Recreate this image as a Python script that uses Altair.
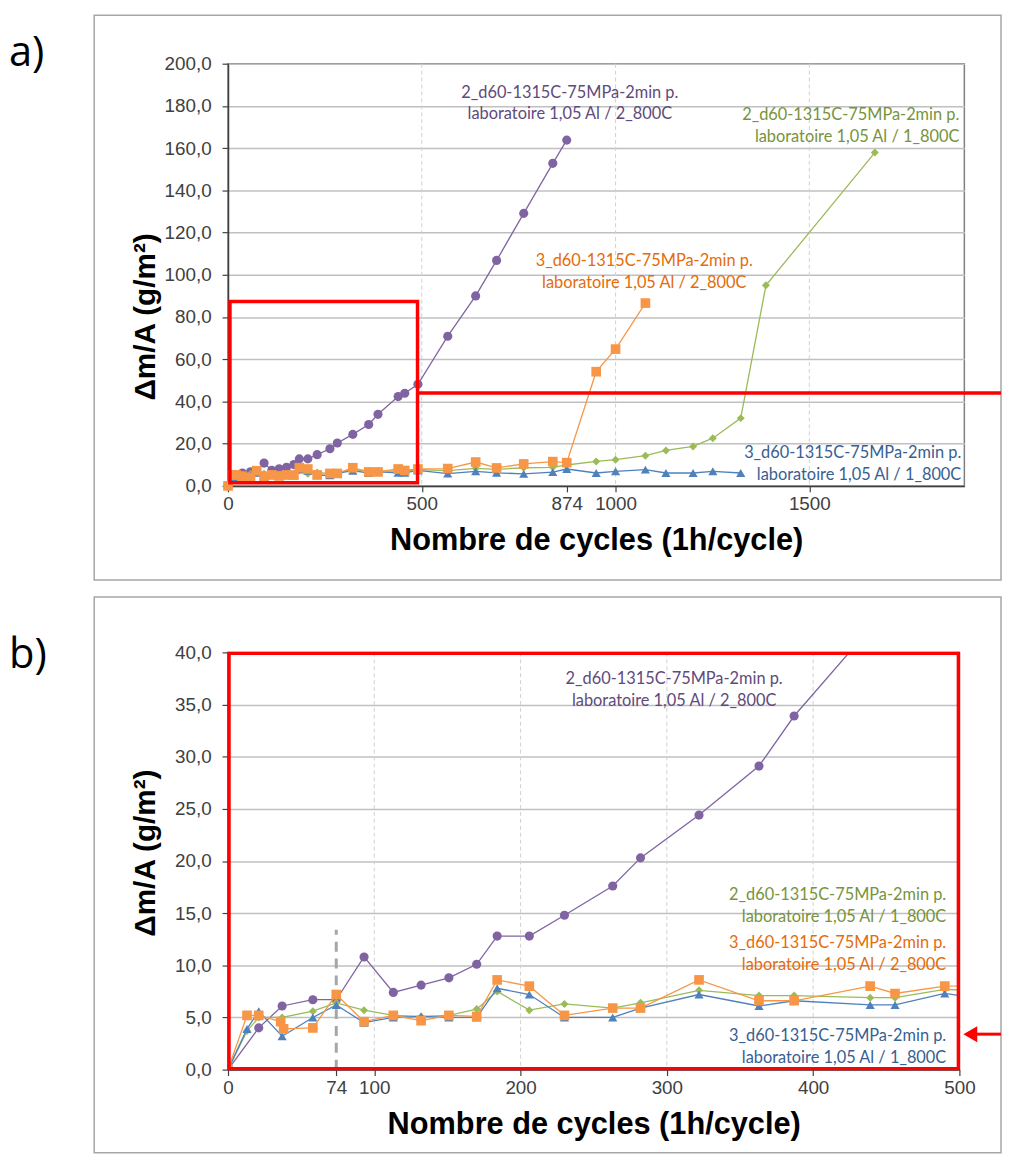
import altair as alt
import pandas as pd

# ---------------- data (cycles, delta m / A in g/m2) ----------------
purple_x = [0, 21, 37, 58, 74, 93, 113, 132, 151, 170, 184, 206, 230, 263, 282, 322, 363, 387,
            439, 456, 490, 567, 639, 693, 763, 838, 874]
purple_y = [0.0, 4.0, 6.1, 6.7, 6.7, 10.8, 7.4, 8.1, 8.8, 10.1, 12.8, 12.8, 14.8, 17.6, 20.3, 24.4,
            29.1, 33.9, 42.3, 43.9, 48.1, 70.9, 90.0, 106.8, 129.1, 152.8, 163.8]

orange_x = [0, 13, 21, 36, 38, 58, 74, 93, 113, 132, 151, 170, 184, 206, 230, 263, 282, 322, 363,
            387, 439, 456, 490, 567, 639, 693, 763, 838, 874, 950, 1000, 1077]
orange_y = [0.0, 5.2, 5.2, 4.6, 3.9, 4.0, 7.2, 4.6, 5.2, 4.7, 5.2, 5.1, 8.6, 8.0, 5.2, 5.9, 5.9, 8.6,
            6.6, 6.6, 8.0, 7.3, 8.0, 8.2, 11.3, 8.5, 10.4, 11.5, 11.0, 54.1, 64.8, 86.6]

green_x = [0, 13, 21, 37, 58, 74, 93, 113, 132, 151, 170, 184, 206, 230, 263, 282, 322, 363, 387,
           439, 456, 490, 567, 639, 693, 763, 838, 874, 950, 1000, 1077, 1130, 1200, 1251, 1323,
           1388, 1669]
green_y = [0.0, 3.7, 5.0, 5.0, 5.6, 6.4, 5.7, 5.2, 5.1, 5.2, 5.8, 7.5, 5.7, 6.3, 5.9, 6.4, 7.6, 7.1,
           7.1, 6.9, 6.9, 7.7, 7.2, 8.3, 7.8, 8.6, 8.8, 9.9, 11.6, 12.4, 14.3, 16.8, 18.7, 22.6,
           32.1, 95.0, 157.9]

blue_x = [0, 13, 21, 37, 58, 74, 93, 113, 132, 151, 170, 184, 206, 230, 263, 282, 322, 363, 387,
          439, 456, 490, 567, 639, 693, 763, 838, 874, 950, 1000, 1077, 1130, 1200, 1251, 1323]
blue_y = [0.0, 3.9, 5.6, 3.2, 5.0, 6.2, 4.5, 5.0, 5.1, 5.0, 5.0, 7.8, 7.2, 5.0, 5.0, 5.9, 7.2, 6.1,
          6.6, 6.2, 6.2, 7.3, 5.8, 6.9, 6.2, 5.7, 6.5, 8.0, 6.1, 6.9, 7.7, 6.1, 6.1, 6.9, 6.1]

series_names = ["purple", "green", "blue", "orange"]          # drawing order
series_data = {"purple": (purple_x, purple_y), "green": (green_x, green_y),
               "blue": (blue_x, blue_y), "orange": (orange_x, orange_y)}
line_colors = {"purple": "#8064A2", "green": "#9BBB59", "blue": "#4F81BD", "orange": "#F79646"}
text_colors = {"purple": "#604A7B", "green": "#77933C", "blue": "#376092", "orange": "#E46C0A"}
shapes = {"purple": "circle", "green": "diamond", "blue": "triangle-up", "orange": "square"}
sizes = {"purple": 85, "green": 65, "blue": 85, "orange": 95}

label_line1 = {"purple": "2_d60-1315C-75MPa-2min p.", "green": "2_d60-1315C-75MPa-2min p.",
               "orange": "3_d60-1315C-75MPa-2min p.", "blue": "3_d60-1315C-75MPa-2min p."}
label_line2 = {"purple": "laboratoire 1,05 Al / 2_800C", "green": "laboratoire 1,05 Al / 1_800C",
               "orange": "laboratoire 1,05 Al / 2_800C", "blue": "laboratoire 1,05 Al / 1_800C"}

# annotation anchor positions (data units, centre of first line) : x, y, align
ann_a = {"purple": (882, 186.3, "center"), "green": (1887, 175.5, "right"),
         "orange": (1074, 106.6, "center"), "blue": (1892, 15.6, "right")}
ann_b = {"purple": (305, 37.4, "center"), "green": (491, 16.7, "right"),
         "orange": (491, 12.1, "right"), "blue": (491, 3.2, "right")}

# panel a axes
a_xmax, a_ymax = 1900, 200
a_xticks = [0, 500, 874, 1000, 1500]
a_xgrid = [500, 1000, 1500]
a_yticks = list(range(0, 201, 20))
# panel b axes
b_xmax, b_ymax = 500, 40
b_xticks = [0, 74, 100, 200, 300, 400, 500]
b_xgrid = [100, 200, 300, 400]
b_yticks = list(range(0, 41, 5))

# zoomed region of panel a and marker of panel b
zoom_box = [{"x0": 5, "x1": 489, "y0": 1.5, "y1": 87.3}]
zoom_level = [{"x0": 489, "y": 44.0}]
start_cycle = [{"x": 74, "y0": 0.0, "y1": 13.4}]
arrow_level = [{"y": 3.4}]

rows = []
for s in series_names:
    xs, ys = series_data[s]
    for i, (x, y) in enumerate(zip(xs, ys)):
        rows.append({"series": s, "x": x, "y": y, "i": i})
df = pd.DataFrame(rows)

FONT = "Liberation Sans"
TFONT = "Lato"
YLABEL = "replace(format(datum.value, '.1f'), '.', ',')"
ONE = alt.Data(values=[{}])


def make_panel(letter, letter_y, xmax, ymax, xticks, xgrid, yticks, W, H, ann, clip, ytitle_y,
               box_top, box_bottom, fs_ann, lh_ann):
    xs = alt.Scale(domain=[0, xmax], nice=False, zero=True)
    ys = alt.Scale(domain=[0, ymax], nice=False, zero=True)
    xaxis = alt.Axis(values=xticks, format="d", grid=False, labelFont=FONT, labelFontSize=19,
                     labelColor="#404040", tickSize=6, tickColor="#404040", tickWidth=1.2,
                     domainColor="#404040", domainWidth=1.5, labelPadding=3,
                     labelOverlap=False, labelFlush=False,
                     title="Nombre de cycles (1h/cycle)", titleFont=FONT, titleFontSize=31,
                     titleFontWeight="bold", titleColor="#000000", titleBaseline="top",
                     titleY=40)
    yaxis = alt.Axis(values=yticks, labelExpr=YLABEL, grid=True, gridColor="#C0C0C0",
                     gridWidth=1.5, labelFont=FONT, labelFontSize=19, labelColor="#404040",
                     tickSize=6, tickColor="#404040", tickWidth=1.2, domainColor="#404040",
                     domainWidth=1.5, labelPadding=11,
                     title="Δm/A (g/m²)", titleFont=FONT, titleFontSize=30,
                     titleFontWeight="bold", titleColor="#000000", titleX=-68, titleY=ytitle_y,
                     titleAlign="center", titleBaseline="bottom", titleAngle=270)

    layers = []
    # outer frame of the panel
    layers.append(alt.Chart(ONE).mark_rect(fillOpacity=0, stroke="#A6A6A6", strokeWidth=1.5)
                  .encode(x=alt.value(-135), x2=alt.value(780), y=alt.value(box_top),
                          y2=alt.value(box_bottom)))
    # vertical dashed grid
    layers.append(alt.Chart(pd.DataFrame({"g": xgrid})).mark_rule(
        color="#D0D0D0", strokeWidth=1, strokeDash=[4, 3])
        .encode(x=alt.X("g:Q", scale=xs, axis=xaxis)))
    # series
    for s in series_names:
        sub = df[df.series == s]
        base = alt.Chart(sub).encode(
            x=alt.X("x:Q", scale=xs, axis=xaxis),
            y=alt.Y("y:Q", scale=ys, axis=yaxis),
            order="i:Q")
        layers.append(base.mark_line(color=line_colors[s], strokeWidth=1.3, clip=clip))
        layers.append(base.mark_point(shape=shapes[s], size=sizes[s], filled=True, opacity=1,
                                      color=line_colors[s], clip=clip))
    # series annotations
    for s in series_names:
        ax, ay, al = ann[s]
        d = pd.DataFrame([{"x": ax, "y": ay, "t": label_line1[s] + "\n" + label_line2[s]}])
        layers.append(alt.Chart(d).mark_text(font=TFONT, fontSize=fs_ann, lineHeight=lh_ann,
                                             lineBreak="\n", align=al, baseline="middle",
                                             color=text_colors[s])
                      .encode(x=alt.X("x:Q", scale=xs, axis=xaxis),
                              y=alt.Y("y:Q", scale=ys, axis=yaxis), text="t:N"))
    # panel letter
    layers.append(alt.Chart(ONE).mark_text(text=letter, font="Open Sans", fontSize=42,
                                           align="left", baseline="alphabetic", color="#000000")
                  .encode(x=alt.value(-221), y=alt.value(letter_y)))
    return layers, xs, ys, xaxis, yaxis


# ---------- panel a ----------
WA, HA = 743, 426
la, xsa, ysa, xaa, yaa = make_panel("a)", 2, a_xmax, a_ymax, a_xticks, a_xgrid, a_yticks, WA, HA,
                                    ann_a, False, 255, -49, 521, 16.5, 22)
la.append(alt.Chart(pd.DataFrame(zoom_box)).mark_rect(fillOpacity=0, stroke="#FF0000",
                                                      strokeWidth=3.5)
          .encode(x=alt.X("x0:Q", scale=xsa, axis=xaa), x2="x1:Q",
                  y=alt.Y("y0:Q", scale=ysa, axis=yaa), y2="y1:Q"))
la.append(alt.Chart(pd.DataFrame(zoom_level)).mark_rule(color="#FF0000", strokeWidth=3.5)
          .encode(x=alt.X("x0:Q", scale=xsa, axis=xaa), x2=alt.value(780),
                  y=alt.Y("y:Q", scale=ysa, axis=yaa)))
panel_a = alt.layer(*la).properties(width=WA, height=HA)

# ---------- panel b ----------
WB, HB = 738, 421
lb, xsb, ysb, xab, yab = make_panel("b)", 16, b_xmax, b_ymax, b_xticks, b_xgrid, b_yticks, WB, HB,
                                    ann_b, True, 202, -56, 505, 16.5, 22)
lb.insert(2, alt.Chart(pd.DataFrame(start_cycle)).mark_rule(color="#A6A6A6", strokeWidth=3,
                                                           strokeDash=[10, 7])
          .encode(x=alt.X("x:Q", scale=xsb, axis=xab), y=alt.Y("y0:Q", scale=ysb, axis=yab),
                  y2="y1:Q"))
lb.append(alt.Chart(ONE).mark_rect(fillOpacity=0, stroke="#FF0000", strokeWidth=3.5)
          .encode(x=alt.value(1), x2=alt.value(WB - 1), y=alt.value(1), y2=alt.value(HB - 1)))
lb.append(alt.Chart(pd.DataFrame(arrow_level)).mark_rule(color="#FF0000", strokeWidth=3)
          .encode(x=alt.value(755), x2=alt.value(780), y=alt.Y("y:Q", scale=ysb, axis=yab)))
lb.append(alt.Chart(pd.DataFrame(arrow_level)).mark_point(shape="triangle-left", size=260,
                                                          filled=True, opacity=1,
                                                          color="#FF0000")
          .encode(x=alt.value(749), y=alt.Y("y:Q", scale=ysb, axis=yab)))
panel_b = alt.layer(*lb).properties(width=WB, height=HB)

chart = alt.vconcat(panel_a, panel_b, spacing=13).properties(
    padding={"left": 0, "top": 0, "right": 0, "bottom": 0}
).configure_view(stroke="#7F7F7F", strokeWidth=1.5)

chart.save("out.html", embed_options={"renderer": "svg", "actions": False})
